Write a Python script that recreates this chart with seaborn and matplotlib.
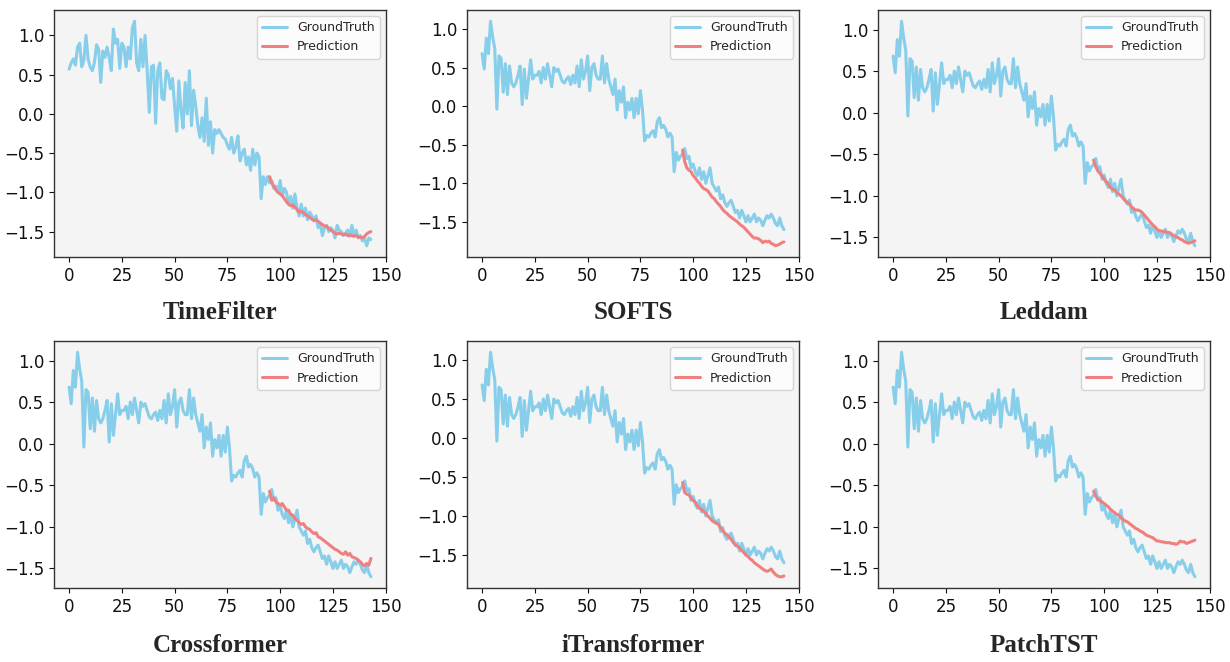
import matplotlib
matplotlib.use("Agg")
import matplotlib.pyplot as plt
import pandas as pd
import seaborn as sns

# ground truth used by TimeFilter panel
gt_timefilter = [
    0.57, 0.65, 0.70, 0.62, 0.85, 0.90, 0.60, 0.68, 1.00, 0.70,
    0.60, 0.55, 0.65, 0.88, 0.82, 0.40, 0.80, 0.72, 0.85, 0.72,
    0.55, 1.08, 0.90, 0.95, 0.58, 0.90, 0.85, 0.60, 0.85, 0.70,
    1.10, 1.18, 0.65, 0.55, 0.95, 0.60, 1.00, 0.55, 0.02, 0.60,
    0.62, -0.12, 0.55, 0.65, 0.20, 0.18, 0.55, 0.50, 0.32, 0.45,
    0.10, -0.22, 0.42, 0.05, -0.18, 0.40, 0.00, 0.55, -0.15, 0.30,
    0.10, -0.15, -0.30, -0.05, -0.35, 0.20, -0.40, -0.10, -0.50, -0.20,
    -0.25, -0.20, -0.25, -0.30, -0.32, -0.40, -0.45, -0.30, -0.50, -0.42,
    -0.28, -0.60, -0.50, -0.45, -0.65, -0.55, -0.72, -0.45, -0.65, -0.50,
    -0.55, -1.08, -0.80, -0.90, -0.80, -0.88, -0.85, -0.95, -0.92, -1.00,
    -0.85, -1.05, -0.95, -1.00, -1.15, -1.05, -1.20, -1.02, -1.20, -1.30,
    -1.15, -1.30, -1.20, -1.35, -1.25, -1.30, -1.35, -1.30, -1.45, -1.40,
    -1.55, -1.45, -1.42, -1.50, -1.45, -1.48, -1.58, -1.42, -1.48, -1.50,
    -1.55, -1.52, -1.48, -1.56, -1.42, -1.55, -1.48, -1.58, -1.55, -1.62,
    -1.58, -1.68, -1.58, -1.60,
]

# ground truth shared by the other five panels
gt_common = [
    0.68, 0.48, 0.88, 0.68, 1.10, 0.90, 0.75, -0.04, 0.65, 0.62,
    0.18, 0.55, 0.15, 0.52, 0.30, 0.25, 0.30, 0.40, 0.52, 0.02,
    0.48, 0.10, 0.35, 0.60, 0.35, 0.40, 0.40, 0.45, 0.30, 0.50,
    0.35, 0.55, 0.40, 0.25, 0.50, 0.45, 0.48, 0.40, 0.32, 0.30,
    0.35, 0.38, 0.28, 0.40, 0.30, 0.52, 0.25, 0.60, 0.35, 0.45,
    0.65, 0.20, 0.50, 0.55, 0.40, 0.35, 0.35, 0.65, 0.30, 0.55,
    0.35, 0.25, 0.15, 0.35, -0.05, 0.20, 0.05, 0.25, -0.15, 0.05,
    -0.05, 0.10, -0.15, 0.10, -0.10, 0.20, -0.05, -0.45, -0.38, -0.40,
    -0.35, -0.32, -0.40, -0.20, -0.15, -0.28, -0.25, -0.30, -0.40, -0.35,
    -0.40, -0.85, -0.60, -0.70, -0.65, -0.62, -0.55, -0.68, -0.65, -0.80,
    -0.75, -0.85, -0.90, -0.80, -0.95, -0.85, -1.00, -0.90, -0.80, -1.00,
    -1.05, -1.10, -1.05, -1.20, -1.15, -1.25, -1.30, -1.25, -1.22, -1.30,
    -1.38, -1.35, -1.45, -1.35, -1.42, -1.50, -1.42, -1.50, -1.45, -1.40,
    -1.50, -1.45, -1.48, -1.55, -1.48, -1.42, -1.45, -1.40, -1.45, -1.52,
    -1.55, -1.45, -1.55, -1.60,
]

pred_start = 95

pred_timefilter = [
    -0.80, -0.88, -0.92, -0.97, -1.00, -1.02, -1.04, -1.08, -1.12, -1.15,
    -1.17, -1.16, -1.19, -1.22, -1.25, -1.24, -1.26, -1.28, -1.30, -1.32,
    -1.34, -1.36, -1.35, -1.37, -1.39, -1.41, -1.43, -1.43, -1.46, -1.48,
    -1.50, -1.52, -1.53, -1.52, -1.53, -1.54, -1.53, -1.55, -1.54, -1.55,
    -1.56, -1.55, -1.57, -1.57, -1.58, -1.56, -1.53, -1.51, -1.50,
]
pred_softs = [
    -0.57, -0.72, -0.80, -0.83, -0.85, -0.90, -0.93, -0.97, -1.00, -1.04,
    -1.07, -1.08, -1.10, -1.14, -1.18, -1.20, -1.24, -1.27, -1.30, -1.34,
    -1.37, -1.39, -1.42, -1.44, -1.46, -1.48, -1.50, -1.53, -1.55, -1.57,
    -1.60, -1.63, -1.66, -1.69, -1.71, -1.71, -1.72, -1.74, -1.77, -1.75,
    -1.76, -1.75, -1.78, -1.79, -1.81, -1.80, -1.79, -1.77, -1.76,
]
pred_leddam = [
    -0.57, -0.65, -0.70, -0.73, -0.76, -0.80, -0.83, -0.86, -0.90, -0.92,
    -0.93, -0.96, -0.98, -1.00, -1.03, -1.06, -1.08, -1.10, -1.13, -1.16,
    -1.17, -1.17, -1.18, -1.20, -1.23, -1.26, -1.29, -1.32, -1.35, -1.37,
    -1.40, -1.42, -1.42, -1.43, -1.43, -1.44, -1.44, -1.46, -1.48, -1.49,
    -1.50, -1.52, -1.53, -1.55, -1.56, -1.57, -1.56, -1.55, -1.54,
]
pred_crossformer = [
    -0.57, -0.68, -0.65, -0.70, -0.72, -0.74, -0.72, -0.76, -0.80, -0.80,
    -0.85, -0.86, -0.90, -0.92, -0.95, -0.97, -0.96, -1.00, -1.02, -1.03,
    -1.06, -1.08, -1.07, -1.12, -1.13, -1.15, -1.17, -1.19, -1.21, -1.23,
    -1.25, -1.27, -1.28, -1.30, -1.32, -1.33, -1.30, -1.34, -1.32, -1.36,
    -1.37, -1.38, -1.40, -1.42, -1.45, -1.47, -1.44, -1.46, -1.38,
]
pred_itransformer = [
    -0.57, -0.70, -0.72, -0.73, -0.77, -0.80, -0.82, -0.87, -0.90, -0.92,
    -0.94, -0.97, -1.00, -1.03, -1.06, -1.08, -1.09, -1.11, -1.15, -1.19,
    -1.22, -1.24, -1.27, -1.30, -1.34, -1.37, -1.39, -1.41, -1.44, -1.47,
    -1.50, -1.52, -1.55, -1.57, -1.60, -1.62, -1.64, -1.66, -1.68, -1.70,
    -1.71, -1.70, -1.68, -1.72, -1.75, -1.77, -1.78, -1.78, -1.77,
]
pred_patchtst = [
    -0.57, -0.63, -0.67, -0.68, -0.70, -0.72, -0.74, -0.76, -0.79, -0.81,
    -0.83, -0.85, -0.86, -0.89, -0.91, -0.93, -0.94, -0.96, -0.98, -1.00,
    -1.02, -1.03, -1.05, -1.06, -1.08, -1.10, -1.11, -1.12, -1.13, -1.15,
    -1.17, -1.17, -1.18, -1.18, -1.19, -1.19, -1.19, -1.20, -1.20, -1.21,
    -1.20, -1.17, -1.18, -1.18, -1.20, -1.19, -1.18, -1.17, -1.16,
]

models = ["TimeFilter", "SOFTS", "Leddam", "Crossformer", "iTransformer", "PatchTST"]
truths = [gt_timefilter, gt_common, gt_common, gt_common, gt_common, gt_common]
preds = [pred_timefilter, pred_softs, pred_leddam,
         pred_crossformer, pred_itransformer, pred_patchtst]

sns.set_theme(style="ticks", rc={"axes.facecolor": "#f4f4f4",
                                 "axes.edgecolor": "#333333",
                                 "axes.linewidth": 1.0})
plt.rcParams['font.family'] = ['DejaVu Sans']
plt.rcParams['axes.unicode_minus'] = True

fig = plt.figure(figsize=(12.3, 6.62), dpi=100)

lefts = [54 / 1230, 467 / 1230, 878 / 1230]
bottoms = [1 - 257 / 662, 1 - 588 / 662]
w, h = 332 / 1230, 247 / 662
title_y = [1 - 312 / 662, 1 - 645 / 662]

for i, name in enumerate(models):
    r, c = divmod(i, 3)
    ax = fig.add_axes([lefts[c], bottoms[r], w, h])
    gt = truths[i]
    pr = preds[i]
    df_gt = pd.DataFrame({"t": range(len(gt)), "v": gt})
    df_pr = pd.DataFrame({"t": range(pred_start, pred_start + len(pr)), "v": pr})
    sns.lineplot(data=df_gt, x="t", y="v", ax=ax, color="#87CEEB",
                 linewidth=2.2, label="GroundTruth")
    sns.lineplot(data=df_pr, x="t", y="v", ax=ax, color="#F08080",
                 linewidth=2.2, label="Prediction")
    ax.set_xlabel("")
    ax.set_ylabel("")
    ax.set_xticks([0, 25, 50, 75, 100, 125, 150])
    ax.set_yticks([-1.5, -1.0, -0.5, 0.0, 0.5, 1.0])
    ax.tick_params(labelsize=12, length=3.5, width=0.8, colors="#111111")
    ax.margins(x=0.05)
    ax.legend(loc="upper right", fontsize=9, frameon=True,
              facecolor="white", edgecolor="#cccccc", framealpha=0.8)
    fig.text(lefts[c] + w / 2, title_y[r], name, ha="center", va="center",
             fontsize=18, fontweight="bold", family=["Liberation Serif", "DejaVu Serif"])

fig.savefig("out.png", dpi=100)
